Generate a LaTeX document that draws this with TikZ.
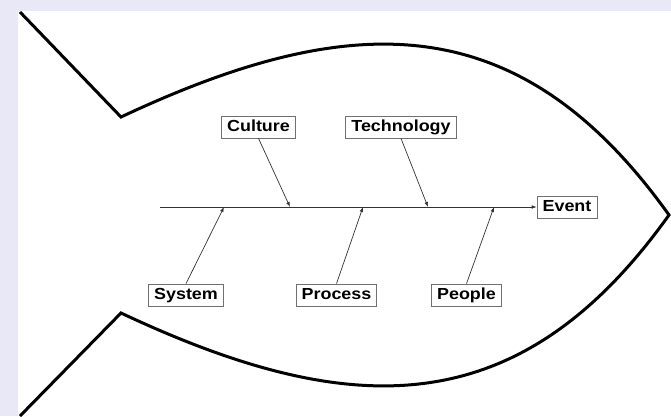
\documentclass[tikz,border=0pt]{standalone}
\usepackage{fontspec}
\newfontfamily\causefont[FakeStretch=1.12]{Liberation Sans}
\usetikzlibrary{arrows.meta}
\definecolor{fishbg}{HTML}{E8E8F6}
\definecolor{fishbox}{HTML}{707070}
\definecolor{fishbone}{HTML}{333333}

\begin{document}
\begin{tikzpicture}[x=1pt,y=-1pt,every node/.style={font=\causefont\bfseries\fontsize{16}{18}\selectfont}]
\tikzset{cause/.style={draw=fishbox,line width=0.8pt,fill=white,minimum height=22pt,inner xsep=5.5pt,inner ysep=3pt,text height=12pt,text depth=3.5pt},
  bone/.style={-{Latex[length=5pt,width=3.6pt]},fishbone,line width=0.7pt}}
\useasboundingbox (0,0) rectangle (671,416);
\fill[fishbg] (0,0) rectangle (671,416);
\fill[white] (18,11) rectangle (671,416);
% fish outline: tail lines and the two body arcs meeting at the head
\draw[line width=3pt,line join=miter] (20,12) -- (121,117) .. controls (351,9) and (519,5) .. (669,215)
  .. controls (519,425) and (351,421) .. (121,313) -- (20,416);
\node[cause] (cult) at (258.5,127) {Culture};
\node[cause] (tech) at (401,127) {Technology};
\node[cause] (sys) at (186,295) {System};
\node[cause] (proc) at (336.5,295) {Process};
\node[cause] (ppl) at (466.5,295) {People};
\node[cause] (event) at (567,207) {Event};
\coordinate (tail) at (160,207);
\draw[bone] (tail)--(event.west);
\foreach \n/\x in {cult/290,tech/428,sys/224,proc/363,ppl/494}{
  \coordinate (\n-j) at (\x,207);
}
\foreach \n in {cult,tech}{
  \draw[bone] (\n.south)--(\n-j);
}
\foreach \n in {sys,proc,ppl}{
  \draw[bone] (\n.north)--(\n-j);
}
\end{tikzpicture}
\end{document}
